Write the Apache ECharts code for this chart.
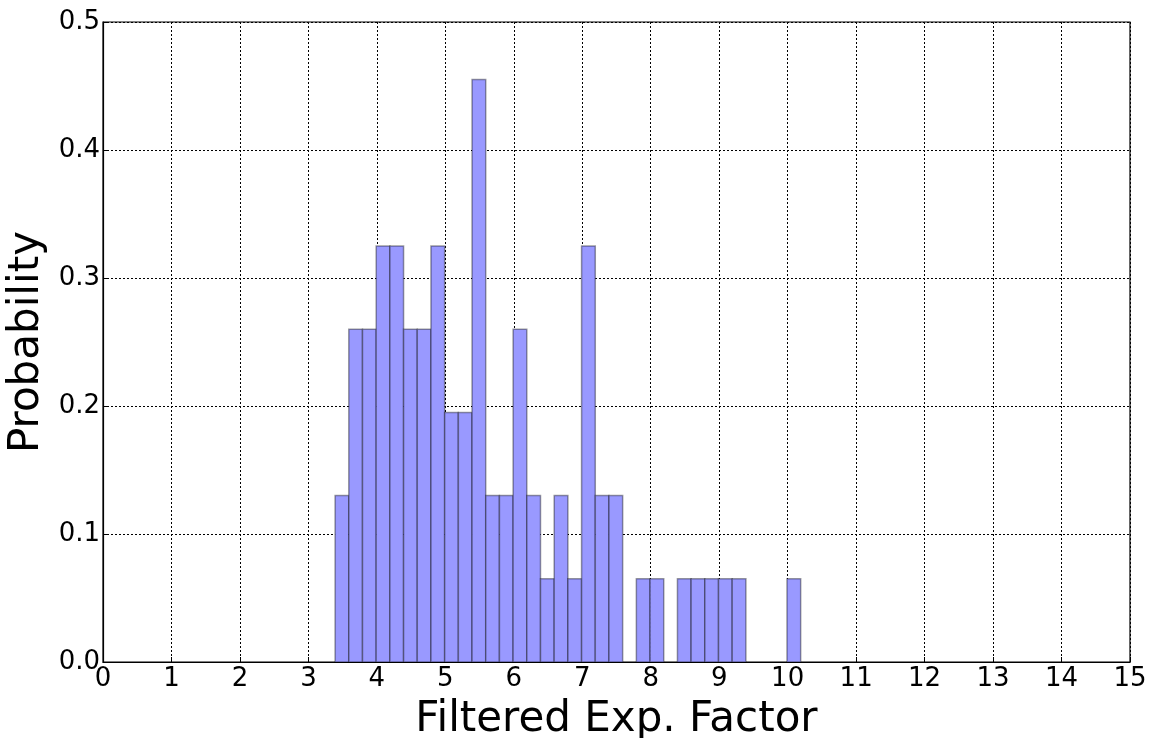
<!DOCTYPE html>
<html>
<head>
<meta charset="utf-8">
<title>Filtered Exp. Factor</title>
<script src="https://cdn.jsdelivr.net/npm/echarts@6/dist/echarts.min.js"></script>
<style>
  html, body { margin: 0; padding: 0; background: #fff; }
  #chart { width: 1153px; height: 738px; }
</style>
</head>
<body>
<div id="chart"></div>
<script>
// histogram bins (left edge of first bin, bin width)
const binStart = 3.39;
const binWidth = 0.2;
// probability density of each bin
const probability = [
  0.130, 0.260, 0.260, 0.325, 0.325, 0.260, 0.260, 0.325, 0.195, 0.195,
  0.455, 0.130, 0.130, 0.260, 0.130, 0.065, 0.130, 0.065, 0.325, 0.130,
  0.130, 0, 0.065, 0.065, 0, 0.065, 0.065, 0.065, 0.065, 0.065,
  0, 0, 0, 0.065
];
const xTicks = [0, 15, 1];     // min, max, step
const yTicks = [0, 0.5, 0.1];

const bars = [];
probability.forEach(function (p, i) {
  if (p > 0) {
    const left = binStart + i * binWidth;
    bars.push([left, left + binWidth, p]);
  }
});

const font = 'DejaVu Sans';
const myChart = echarts.init(document.getElementById('chart'));

const option = {
  animation: false,
  grid: {
    left: 103, right: 23, top: 22, bottom: 76,
    outerBoundsMode: 'none',
    containLabel: false,
    show: true,
    borderColor: '#000',
    borderWidth: 1.2
  },
  xAxis: {
    type: 'value',
    min: xTicks[0], max: xTicks[1], interval: xTicks[2],
    name: 'Filtered Exp. Factor',
    nameLocation: 'middle',
    nameGap: 37,
    nameTextStyle: { fontFamily: font, fontSize: 42, color: '#000' },
    axisLine: { show: true, onZero: false, lineStyle: { color: '#000', width: 1.2 } },
    axisTick: { show: true, inside: true, length: 5, lineStyle: { color: '#000' } },
    axisLabel: { fontFamily: font, fontSize: 26, color: '#000', margin: 4 },
    splitLine: { show: true, lineStyle: { color: '#000', type: [2, 2], width: 1 } }
  },
  yAxis: {
    type: 'value',
    min: yTicks[0], max: yTicks[1], interval: yTicks[2],
    name: 'Probability',
    nameLocation: 'middle',
    nameGap: 48,
    nameTextStyle: { fontFamily: font, fontSize: 42, color: '#000' },
    axisLine: { show: true, lineStyle: { color: '#000', width: 1.2 } },
    axisTick: { show: true, inside: true, length: 5, lineStyle: { color: '#000' } },
    axisLabel: {
      fontFamily: font, fontSize: 26, color: '#000', margin: 3,
      formatter: function (v) { return v.toFixed(1); }
    },
    splitLine: { show: true, lineStyle: { color: '#000', type: [2, 2], width: 1 } }
  },
  series: [{
    type: 'custom',
    data: bars,
    encode: { x: [0, 1], y: 2 },
    renderItem: function (params, api) {
      const p0 = api.coord([api.value(0), api.value(2)]);
      const p1 = api.coord([api.value(1), 0]);
      return {
        type: 'rect',
        shape: { x: p0[0], y: p0[1], width: p1[0] - p0[0], height: p1[1] - p0[1] },
        style: { fill: '#9999ff', stroke: 'rgba(0,0,0,0.38)', lineWidth: 1.5 }
      };
    }
  }]
};
option && myChart.setOption(option);
</script>
</body>
</html>
